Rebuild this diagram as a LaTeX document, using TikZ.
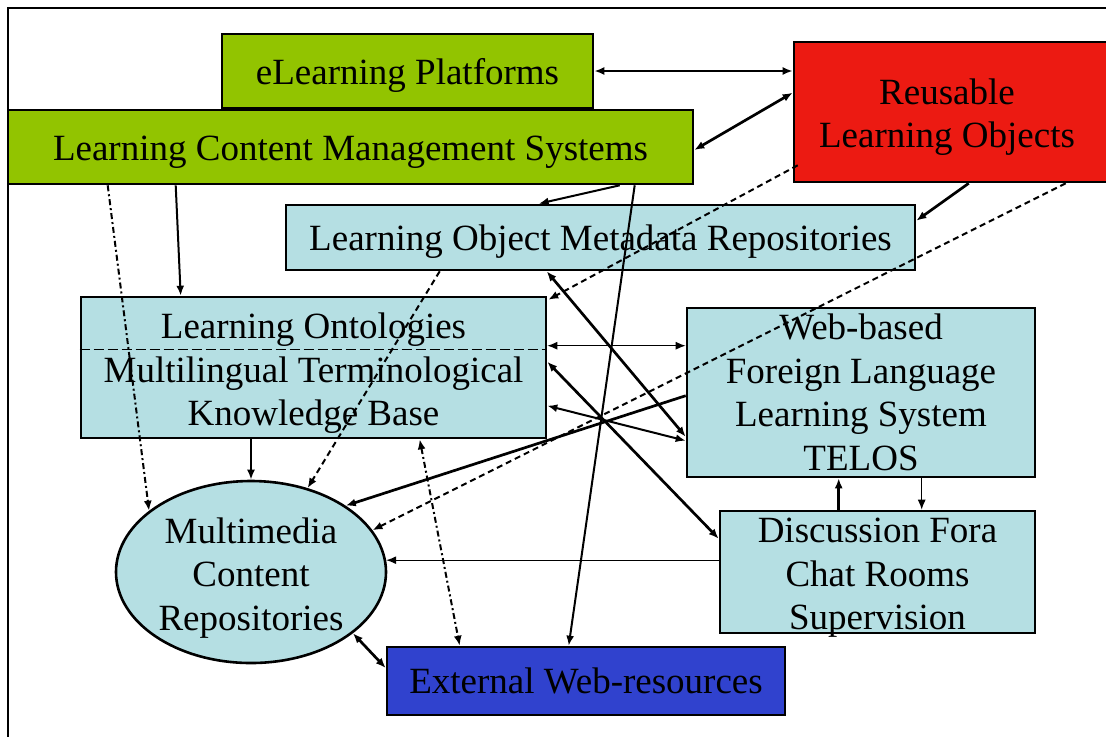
\documentclass[tikz,border=0pt]{standalone}
\usepackage{fontspec}
\setmainfont{Liberation Serif}
\usetikzlibrary{arrows.meta,calc,shapes.geometric}
\definecolor{lgreen}{RGB}{146,196,0}
\definecolor{lred}{RGB}{236,26,18}
\definecolor{lblue}{RGB}{181,223,227}
\definecolor{dblue}{RGB}{48,66,206}
\newcommand{\lowr}[2]{\raisebox{-#1}[\height][\depth]{#2}}
\begin{document}
\begin{tikzpicture}[x=0.5pt,y=-0.5pt,
  box/.style={draw=black,line width=1.3pt,rectangle,inner sep=0pt,align=center,
    font=\fontsize{18.5pt}{21.8pt}\selectfont},
  txt/.style={inner sep=0pt,align=center,font=\fontsize{18.5pt}{21.8pt}\selectfont},
  tip/.style={>={Latex[length=5pt,width=4pt]}},
  thk/.style={tip,line width=1.35pt},
  ln/.style={tip,line width=1pt},
  thn/.style={tip,line width=0.6pt},
  dsh/.style={tip,line width=1pt,dash pattern=on 3pt off 2pt},
  dd/.style={tip,line width=1pt,dash pattern=on 3pt off 1.5pt on 1pt off 1.5pt}]
\useasboundingbox (0,0) rectangle (1106,736);
\draw[line width=1.2pt] (8,760) -- (8,8) -- (1130,8);
% nodes
\node[box,fill=lgreen,minimum width=185.5pt,minimum height=37pt] (eLP) at (407.5,71) {\lowr{2pt}{eLearning Platforms}};
\node[box,fill=lgreen,minimum width=342.5pt,minimum height=37pt] (LCMS) at (350.5,147) {\lowr{2.5pt}{Learning Content Management Systems}};
\node[box,fill=lred,minimum width=163pt,minimum height=70pt] (RLO) at (957,112) {};
\node[txt] (RLOtext) at (947,114) {\lowr{1.5pt}{Reusable}\\\lowr{1.5pt}{Learning Objects}};
\node[box,fill=lblue,minimum width=314.5pt,minimum height=32.5pt] (LOMR) at (600.5,237.5) {\lowr{2pt}{Learning Object Metadata Repositories}};
\node[box,fill=lblue,minimum width=232.5pt,minimum height=70.5pt] (LO) at (313.5,367.5) {\lowr{3pt}{Learning Ontologies}\\\lowr{3pt}{Multilingual Terminological}\\\lowr{3pt}{Knowledge Base}};
\draw[line width=0.6pt,dash pattern=on 5pt off 2pt] ($(LO.north west)+(0,54)$) -- ($(LO.north east)+(0,54)$);
\node[box,fill=lblue,minimum width=174pt,minimum height=84.5pt] (TELOS) at (861,392.5) {Web-based\\Foreign Language\\Learning System\\TELOS};
\node[box,fill=lblue,minimum width=157.5pt,minimum height=61pt] (DF) at (877.5,572) {\lowr{3pt}{Discussion Fora}\\\lowr{3pt}{Chat Rooms}\\\lowr{3pt}{Supervision}};
\node[box,ellipse,fill=lblue,minimum width=135pt,minimum height=91pt] (MCR) at (251,572) {\lowr{3pt}{Multimedia}\\\lowr{3pt}{Content}\\\lowr{3pt}{Repositories}};
\node[box,fill=dblue,minimum width=199pt,minimum height=34pt] (EWR) at (586,681) {External Web-resources};
% connectors
\draw[<->,ln] (eLP.east) -- (eLP.east -| RLO.west);
\draw[<->,thk] ($(LCMS.east)+(0,3)$) -- ($(RLO.north west)+(0,52)$);
\draw[->,dsh] ($(RLO.south west)+(5,-18)$) -- ($(LO.north east)+(1,4)$);
\draw[->,ln] ($(LCMS.south west)+(613,0)$) -- ($(LOMR.north west)+(254,0)$);
\draw[->,ln] ($(LCMS.south west)+(628,0)$) -- ($(EWR.north west)+(183,0)$);
\draw[->,ln] ($(LCMS.south west)+(169,0)$) -- ($(LO.north west)+(101,0)$);
\draw[->,dd] ($(LCMS.south west)+(101,0)$) -- (MCR.149);
\draw[->,thk] ($(RLO.south west)+(176,0)$) -- ($(LOMR.north east)+(0,17)$);
\draw[->,dsh] ($(RLO.south west)+(273,0)$) -- (MCR.19);
\draw[<->,thk] ($(LOMR.south west)+(262,0)$) -- ($(TELOS.north west)+(0,130)$);
\draw[<->,thn] ($(LO.north east)+(0,50)$) -- ($(TELOS.north west)+(0,39)$);
\draw[<->,thk] ($(LO.north east)+(0,66)$) -- ($(DF.north west)+(0,29)$);
\draw[<->,ln] ($(LO.north east)+(0,110)$) -- ($(TELOS.north west)+(0,134)$);
\draw[->,thk] ($(TELOS.north west)+(0,89)$) -- (MCR.35);
\draw[->,thk] ($(DF.north west)+(120,0)$) -- ($(TELOS.south west)+(153,0)$);
\draw[->,thn] ($(TELOS.south west)+(236,0)$) -- ($(DF.north west)+(203,0)$);
\draw[->,thn] (DF.west |- MCR.5) -- (MCR.5);
\draw[->,ln] (MCR.north |- LO.south) -- (MCR.north);
\draw[->,dsh] ($(LOMR.south west)+(155,0)$) -- (MCR.56);
\draw[<->,dd] ($(LO.south west)+(340,0)$) -- ($(EWR.north west)+(74,0)$);
\draw[<->,thk] (MCR.329) -- ($(EWR.west)+(0,-13)$);
\end{tikzpicture}
\end{document}
